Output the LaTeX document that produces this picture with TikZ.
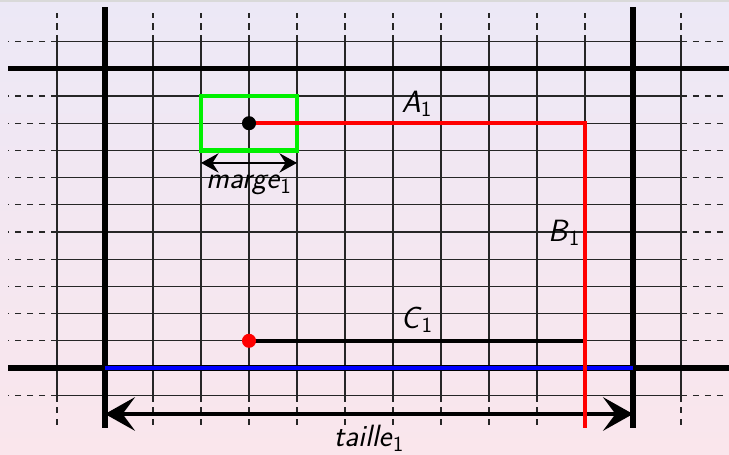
\documentclass[tikz,border=0pt]{standalone}
\usetikzlibrary{arrows.meta}
\definecolor{bgtop}{RGB}{236,232,246}
\definecolor{bgbot}{RGB}{250,230,236}
\definecolor{vert}{RGB}{0,240,0}
\newcommand{\lbl}[2]{\textsf{\textit{#1}}\textsubscript{\textsf{#2}}}
\begin{document}
\begin{tikzpicture}[x=0.96cm, y=0.544cm,
		every node/.style={font=\fontsize{17.5}{20}\selectfont, text=black},
		fin/.style={line width=0.7pt, black!85},
		pointille/.style={fin, dash pattern=on 3.6pt off 3.2pt},
		bord/.style={line width=2.9pt},
		trait/.style={line width=2.6pt},
		pt/.style={circle, fill, inner sep=0pt, minimum size=8pt}]
	% fond
	\shade[top color=bgtop, bottom color=bgbot] (-2.1875,-3.162) rectangle (13,13.53);
	\fill[black!15] (-2.1875,13.45) rectangle (13,13.53);
	\useasboundingbox (-2.1875,-3.162) rectangle (13,13.53);
	% grille
	\foreach \i in {-1,...,12} {
		\draw[fin] (\i,-1) -- (\i,12);
		\draw[fin] (-1,\i) -- (12,\i);
	}
	\foreach \i in {-1,1,2,3,4,5,6,7,8,9,10,12} {
		\draw[pointille] (\i,12) -- (\i,13.05);
		\draw[pointille] (\i,-1) -- (\i,-2.2);
		\draw[pointille] (-1,\i) -- (-2.02,\i);
		\draw[pointille] (12,\i) -- (12.92,\i);
	}
	\foreach \i in {0,11} {
		\draw[bord] (\i,13.27) -- (\i,-2.2);
		\draw[bord] (-2.02,\i) -- (13,\i);
	}
	% points
	\coordinate (M) at (3,9);
	\coordinate (Mc) at (10,9);
	\coordinate (Mb) at (10,-2.2);
	\coordinate (N) at (3,1);
	\coordinate (Nf) at (10,1);
	\coordinate (O) at (0,0);
	\coordinate (Of) at (11,0);
	\coordinate (T1) at (0,-1.69);
	\coordinate (T2) at (11,-1.69);
	\coordinate (G1) at (2,7.54);
	\coordinate (G2) at (4,7.54);
	\draw[trait, blue] (O) -- (Of);
	\draw[trait, vert] (2,8) rectangle (4,10);
	\draw[trait] (N) -- node[above] {\lbl{C}{1}} (Nf);
	\draw[trait, {Stealth[length=17pt, width=19pt, inset=7pt]}-{Stealth[length=17pt, width=19pt, inset=7pt]}]
		(T1) -- node[below=2pt] {\lbl{taille}{1}} (T2);
	\draw[trait, red] (M) -- node[above=-1pt] {\lbl{A}{1}} (Mc)
		-- node[left=-2pt, pos=0.36] {\lbl{B}{1}} (Mb);
	\node[pt] (m) at (M) {};
	\node[pt, red] (n) at (N) {};
	\draw[line width=1.3pt, {Stealth[length=10pt, width=11pt, inset=3.5pt]}-{Stealth[length=10pt, width=11pt, inset=3.5pt]}]
		(G1) -- node[below=3pt] {\lbl{marge}{1}} (G2);
\end{tikzpicture}
\end{document}
